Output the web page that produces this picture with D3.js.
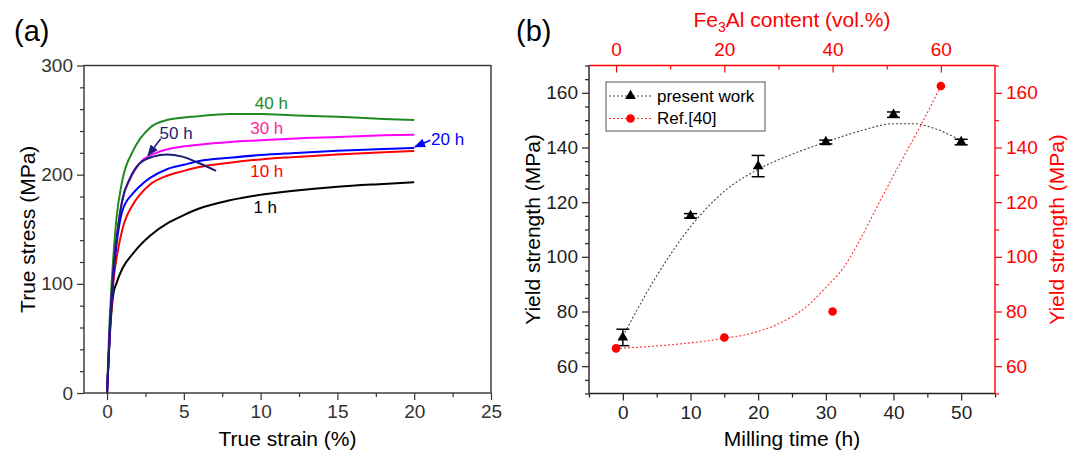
<!DOCTYPE html>
<html>
<head>
<meta charset="utf-8">
<script src="https://cdn.jsdelivr.net/npm/d3@7"></script>
<style>
body { margin: 0; background: #fff; }
text { font-family: "Liberation Sans", Arial, sans-serif; }
</style>
</head>
<body>
<svg id="fig" width="1067" height="452"></svg>
<script>
// ---- panel (a): true stress-strain curves, [strain %, stress MPa]
const curve1h  = [[0,0],[0.15,45],[0.4,90],[0.6,100],[1,114],[1.7,128],[2.8,144],[4,156],[5,163],[6,169],[8,176.5],[10,181.5],[12,185],[15,189],[18,191.5],[20,193]];
const curve10h = [[0,0],[0.2,60],[0.4,100],[0.7,130],[1,150],[1.7,173],[2.1,181],[2.8,191],[3.9,199],[5,203.5],[6,207],[8,211],[10,214],[12,216],[15,218.5],[18,220.5],[20,221.6]];
const curve20h = [[0,0],[0.2,62],[0.4,105],[0.7,145],[1,167],[1.7,183],[2.1,189],[2.8,197],[3.9,205],[5,209],[6,212.5],[8,215.5],[10,218],[12,219.7],[15,221.8],[18,223.5],[20,224.4]];
const curve30h = [[0,0],[0.2,65],[0.4,110],[0.7,150],[1,177],[1.5,196],[2.1,210],[3.2,220],[4,223.5],[6,227.5],[8,230],[10,231.5],[12,233],[15,234.5],[18,236],[20,236.6]];
const curve40h = [[0,0],[0.15,60],[0.3,100],[0.6,158],[1,195],[1.7,222],[2.8,243],[3.9,250],[6,253.6],[8,255.5],[10,255.5],[12,254.5],[15,253],[18,251],[20,250]];
const curve50h = [[0,0],[0.2,65],[0.4,110],[0.7,150],[1,177],[1.5,197],[2.1,210],[3,216.5],[3.9,218.5],[4.9,216.5],[6,210.5],[7.1,203.5]];

const curveNames  = ["1 h", "10 h", "20 h", "30 h", "40 h", "50 h"];
const curveColors = ["#000000", "#ff0000", "#0000ff", "#ff00ff", "#1f8a1f", "#1a1f78"];
const labelColors = ["#000000", "#ff0000", "#0000ff", "#ff1f9a", "#1f8a1f", "#1a1f78"];
// label anchor positions in data units [strain, stress]
const labelPos    = [[10.3,170],[10.4,203],[21.1,232],[10.4,242],[10.7,265],[4.5,237.5]];

const strainTicks = [0, 5, 10, 15, 20, 25];
const stressTicks = [0, 100, 200, 300];

// ---- panel (b): yield strength
const millingTime   = [0, 10, 20, 30, 40, 50];
const yieldPresent  = [70.5, 115, 133.2, 142, 152, 142];
const yieldErr      = [3, 0.8, 3.9, 0.7, 1, 1];
const fe3alContent  = [0, 20, 40, 60];
const yieldRef40    = [66.5, 70.5, 80, 162.5];
// dotted guide curves
const guidePresent  = [[0,71],[5,93],[10,111],[15,124],[20,132],[25,137.5],[30,142],[35,146],[40,148.7],[43,148.7],[46,147],[50,142.5]];
const guideRef40    = [[0,66.5],[10,67.8],[20,70.2],[25,72],[30,75.5],[35,81.5],[38.6,88.5],[42,96],[45,106],[48,117.5],[52,132.5],[56,147],[60,162.5]];

const timeTicks  = [0, 10, 20, 30, 40, 50];
const fe3alTicks = [0, 20, 40, 60];
const yieldTicks = [60, 80, 100, 120, 140, 160];

const svg = d3.select("#fig");
svg.append("rect").attr("width", 1067).attr("height", 452).attr("fill", "#fff");

const defs = svg.append("defs");
[["arrBlue", "#0000ff"], ["arrNavy", "#1a1f78"]].forEach(([id, c]) => {
    defs.append("marker")
        .attr("id", id)
        .attr("viewBox", "0 0 10 10")
        .attr("refX", 9).attr("refY", 5)
        .attr("markerWidth", 7).attr("markerHeight", 7)
        .attr("orient", "auto")
        .append("path")
        .attr("d", "M0,1 L10,5 L0,9 z")
        .attr("fill", c);
});

const tickFont = 19;
const titleFont = 21;

function styleAxis(g, color) {
    g.select(".domain").remove();
    g.selectAll("line").attr("stroke", color).attr("stroke-width", 1.2);
    g.selectAll("text").attr("fill", color).attr("font-size", tickFont)
        .attr("font-family", "Liberation Sans, Arial, sans-serif");
}

// ================= panel (a) =================
const xA = d3.scaleLinear().domain([-1.5, 25]).range([84, 491]);
const yA = d3.scaleLinear().domain([0, 300]).range([393, 65.5]);
const gA = svg.append("g");

gA.append("g").attr("transform", "translate(0,393)")
    .call(d3.axisBottom(xA).tickValues(d3.range(2.5, 25, 5)).tickSize(4).tickFormat(""))
    .call(g => styleAxis(g, "#333"));
gA.append("g").attr("transform", "translate(0,393)")
    .call(d3.axisBottom(xA).tickValues(strainTicks).tickSize(7).tickPadding(5))
    .call(g => styleAxis(g, "#333"));
gA.append("g").attr("transform", "translate(84,0)")
    .call(d3.axisLeft(yA).tickValues(d3.range(20, 300, 20).filter(v => v % 100)).tickSize(4).tickFormat(""))
    .call(g => styleAxis(g, "#333"));
gA.append("g").attr("transform", "translate(84,0)")
    .call(d3.axisLeft(yA).tickValues(stressTicks).tickSize(7).tickPadding(4))
    .call(g => styleAxis(g, "#333"));

gA.append("rect")
    .attr("x", 84).attr("y", 65.5).attr("width", 407).attr("height", 327.5)
    .attr("fill", "none").attr("stroke", "#333").attr("stroke-width", 1.4);

const lineA = d3.line().x(d => xA(d[0])).y(d => yA(d[1])).curve(d3.curveMonotoneX);
const curves = [curve1h, curve10h, curve20h, curve30h, curve40h, curve50h];
const drawOrder = [0, 4, 3, 1, 2, 5];
drawOrder.forEach(i => {
    gA.append("path").datum(curves[i])
        .attr("d", lineA)
        .attr("fill", "none")
        .attr("stroke", curveColors[i])
        .attr("stroke-width", 2);
});

gA.selectAll(".clabel")
    .data(curveNames)
    .enter().append("text")
    .attr("class", "clabel")
    .attr("x", (d, i) => xA(labelPos[i][0]))
    .attr("y", (d, i) => yA(labelPos[i][1]))
    .attr("text-anchor", (d, i) => i === 2 ? "start" : "middle")
    .attr("dominant-baseline", "central")
    .attr("font-size", 17)
    .attr("fill", (d, i) => labelColors[i])
    .text(d => d);

// arrows pointing to 50 h and 20 h curves
gA.append("line")
    .attr("x1", xA(3.5)).attr("y1", yA(233))
    .attr("x2", xA(2.67)).attr("y2", yA(217.7))
    .attr("stroke", "#1a1f78").attr("stroke-width", 1.6)
    .attr("marker-end", "url(#arrNavy)");
gA.append("line")
    .attr("x1", xA(21.05)).attr("y1", yA(231.5))
    .attr("x2", xA(20.05)).attr("y2", yA(225.5))
    .attr("stroke", "#0000ff").attr("stroke-width", 1.6)
    .attr("marker-end", "url(#arrBlue)");

gA.append("text")
    .attr("x", xA(11.75)).attr("y", 438)
    .attr("text-anchor", "middle").attr("dominant-baseline", "central")
    .attr("font-size", titleFont).text("True strain (%)");
gA.append("text")
    .attr("transform", `translate(27,${(65.5 + 393) / 2}) rotate(-90)`)
    .attr("text-anchor", "middle").attr("dominant-baseline", "central")
    .attr("font-size", titleFont).text("True stress (MPa)");
gA.append("text")
    .attr("x", 14).attr("y", 41)
    .attr("font-size", 29).text("(a)");

// ================= panel (b) =================
const xB = d3.scaleLinear().domain([-5, 55]).range([589, 995]);
const xT = d3.scaleLinear().domain([-5, 70]).range([589, 995]);
const yB = d3.scaleLinear().domain([50, 170]).range([393.5, 65.5]);
const gB = svg.append("g");
const red = "#ff0000";

// bottom
gB.append("g").attr("transform", "translate(0,393.5)")
    .call(d3.axisBottom(xB).tickValues(d3.range(-5, 56, 10)).tickSize(4).tickFormat(""))
    .call(g => styleAxis(g, "#222"));
gB.append("g").attr("transform", "translate(0,393.5)")
    .call(d3.axisBottom(xB).tickValues(timeTicks).tickSize(7).tickPadding(5))
    .call(g => styleAxis(g, "#222"));
// left
gB.append("g").attr("transform", "translate(589,0)")
    .call(d3.axisLeft(yB).tickValues(d3.range(50, 171, 5).filter(v => v % 20)).tickSize(4).tickFormat(""))
    .call(g => styleAxis(g, "#222"));
gB.append("g").attr("transform", "translate(589,0)")
    .call(d3.axisLeft(yB).tickValues(yieldTicks).tickSize(7).tickPadding(4))
    .call(g => styleAxis(g, "#222"));
// top (ticks point inward)
gB.append("g").attr("transform", "translate(0,65.5)")
    .call(d3.axisBottom(xT).tickValues([10, 30, 50]).tickSize(4).tickFormat(""))
    .call(g => styleAxis(g, red));
gB.append("g").attr("transform", "translate(0,65.5)")
    .call(d3.axisBottom(xT).tickValues(fe3alTicks).tickSize(7).tickFormat(""))
    .call(g => styleAxis(g, red));
gB.append("g").attr("transform", "translate(0,65.5)")
    .call(d3.axisTop(xT).tickValues(fe3alTicks).tickSize(0).tickPadding(10))
    .call(g => styleAxis(g, red));
// right
gB.append("g").attr("transform", "translate(995,0)")
    .call(d3.axisRight(yB).tickValues(d3.range(50, 171, 20)).tickSize(4).tickFormat(""))
    .call(g => styleAxis(g, red));
gB.append("g").attr("transform", "translate(995,0)")
    .call(d3.axisRight(yB).tickValues(yieldTicks).tickSize(7).tickPadding(4))
    .call(g => styleAxis(g, red));

// frame
gB.append("line").attr("x1", 589).attr("x2", 589).attr("y1", 65.5).attr("y2", 393.5).attr("stroke", "#222").attr("stroke-width", 1.4);
gB.append("line").attr("x1", 589).attr("x2", 995).attr("y1", 393.5).attr("y2", 393.5).attr("stroke", "#222").attr("stroke-width", 1.4);
gB.append("line").attr("x1", 589).attr("x2", 995).attr("y1", 65.5).attr("y2", 65.5).attr("stroke", red).attr("stroke-width", 1.4);
gB.append("line").attr("x1", 995).attr("x2", 995).attr("y1", 65.5).attr("y2", 393.5).attr("stroke", red).attr("stroke-width", 1.4);

// guide curves
const guideLineP = d3.line().x(d => xB(d[0])).y(d => yB(d[1])).curve(d3.curveMonotoneX);
const guideLineR = d3.line().x(d => xT(d[0])).y(d => yB(d[1])).curve(d3.curveMonotoneX);
gB.append("path").datum(guidePresent).attr("d", guideLineP)
    .attr("fill", "none").attr("stroke", "#444").attr("stroke-width", 1.1).attr("stroke-dasharray", "2,2");
gB.append("path").datum(guideRef40).attr("d", guideLineR)
    .attr("fill", "none").attr("stroke", "#ff3030").attr("stroke-width", 1.1).attr("stroke-dasharray", "2,2");

// error bars + triangles
const pts = millingTime.map((t, i) => ({ t, v: yieldPresent[i], e: yieldErr[i] }));
const eb = gB.selectAll(".eb").data(pts).enter().append("g").attr("class", "eb");
eb.append("line")
    .attr("x1", d => xB(d.t)).attr("x2", d => xB(d.t))
    .attr("y1", d => yB(d.v - d.e)).attr("y2", d => yB(d.v + d.e))
    .attr("stroke", "#000").attr("stroke-width", 1.5);
[-1, 1].forEach(s => {
    eb.append("line")
        .attr("x1", d => xB(d.t) - 6.5).attr("x2", d => xB(d.t) + 6.5)
        .attr("y1", d => yB(d.v + s * d.e)).attr("y2", d => yB(d.v + s * d.e))
        .attr("stroke", "#000").attr("stroke-width", 1.5);
});
const tri = d3.symbol(d3.symbolTriangle).size(50);
eb.append("path")
    .attr("d", tri)
    .attr("transform", d => `translate(${xB(d.t)},${yB(d.v)})`)
    .attr("fill", "#000");

// reference circles
gB.selectAll(".refpt")
    .data(fe3alContent)
    .enter().append("circle")
    .attr("class", "refpt")
    .attr("cx", d => xT(d))
    .attr("cy", (d, i) => yB(yieldRef40[i]))
    .attr("r", 4.3)
    .attr("fill", red);

// legend
const lg = gB.append("g");
lg.append("rect").attr("x", 606).attr("y", 82).attr("width", 159).attr("height", 49)
    .attr("fill", "#fff").attr("stroke", "#555").attr("stroke-width", 1);
const legendItems = [
    { name: "present work", color: "#444", sym: "tri", y: 96 },
    { name: "Ref.[40]", color: "#ff3030", sym: "circ", y: 118.5 }
];
legendItems.forEach(it => {
    lg.append("line").attr("x1", 609).attr("x2", 652).attr("y1", it.y).attr("y2", it.y)
        .attr("stroke", it.color).attr("stroke-width", 1.1).attr("stroke-dasharray", "2,2");
    if (it.sym === "tri") {
        lg.append("path").attr("d", tri).attr("transform", `translate(630.5,${it.y})`).attr("fill", "#000");
    } else {
        lg.append("circle").attr("cx", 630.5).attr("cy", it.y).attr("r", 4.3).attr("fill", red);
    }
    lg.append("text").attr("x", 657).attr("y", it.y).attr("dominant-baseline", "central")
        .attr("font-size", 17).text(it.name);
});

// titles
gB.append("text")
    .attr("x", 792).attr("y", 438)
    .attr("text-anchor", "middle").attr("dominant-baseline", "central")
    .attr("font-size", titleFont).text("Milling time (h)");
gB.append("text")
    .attr("transform", `translate(532,${(65.5 + 393.5) / 2}) rotate(-90)`)
    .attr("text-anchor", "middle").attr("dominant-baseline", "central")
    .attr("font-size", titleFont).text("Yield strength (MPa)");
gB.append("text")
    .attr("transform", `translate(1056,${(65.5 + 393.5) / 2}) rotate(-90)`)
    .attr("text-anchor", "middle").attr("dominant-baseline", "central")
    .attr("font-size", titleFont).attr("fill", red).text("Yield strength (MPa)");
const topTitle = gB.append("text")
    .attr("x", 792).attr("y", 27)
    .attr("text-anchor", "middle")
    .attr("font-size", titleFont).attr("fill", red);
topTitle.append("tspan").text("Fe");
topTitle.append("tspan").attr("font-size", 14).attr("dy", 5).text("3");
topTitle.append("tspan").attr("dy", -5).text("Al content (vol.%)");
gB.append("text")
    .attr("x", 516).attr("y", 41)
    .attr("font-size", 29).text("(b)");
</script>
</body>
</html>
